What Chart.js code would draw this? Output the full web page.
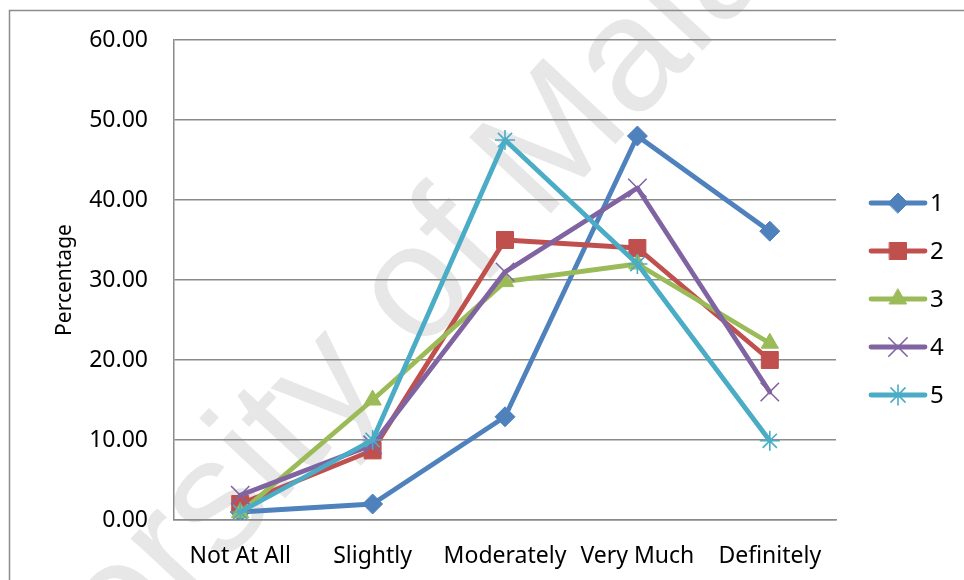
<!DOCTYPE html>
<html>
<head>
<meta charset="utf-8">
<title>Percentage by response</title>
<script src="https://cdn.jsdelivr.net/npm/chart.js@4.4.1/dist/chart.umd.min.js"></script>
<style>
  html, body { margin: 0; padding: 0; background: #ffffff; }
  #wrap { width: 964px; height: 580px; position: relative; }
</style>
</head>
<body>
<div id="wrap"><canvas id="chart" width="964" height="580"></canvas></div>
<script>
// Response categories along the horizontal axis
const categories = ['Not At All', 'Slightly', 'Moderately', 'Very Much', 'Definitely'];

// Series names shown in the legend
const seriesNames = ['1', '2', '3', '4', '5'];

// Percentage values for each series
const series1 = [1.0, 2.0, 12.9, 48.0, 36.1];
const series2 = [2.0, 8.7, 35.0, 34.0, 20.0];
const series3 = [0.9, 15.0, 29.8, 32.0, 22.1];
const series4 = [3.1, 9.4, 31.0, 41.5, 16.0];
const series5 = [1.0, 10.0, 47.5, 32.0, 9.9];

// Vertical axis range and tick step
const yMin = 0;
const yMax = 60;
const yStep = 10;

const FONT = '"Noto Sans", "Open Sans", sans-serif';
const GRID = '#8a8a8a';

const styles = [
  { color: '#4F81BD', pointStyle: 'rectRot',  radius: 10, pointBorderWidth: 1 },
  { color: '#C0504D', pointStyle: 'rect',     radius: 12, pointBorderWidth: 1 },
  { color: '#9BBB59', pointStyle: 'triangle', radius: 10, pointBorderWidth: 1 },
  { color: '#8064A2', pointStyle: 'crossRot', radius: 13, pointBorderWidth: 1.6 },
  { color: '#4BACC6', pointStyle: 'star',     radius: 10, pointBorderWidth: 1.6 }
];

const values = [series1, series2, series3, series4, series5];

const datasets = values.map((data, i) => ({
  label: seriesNames[i],
  data: data,
  borderColor: styles[i].color,
  backgroundColor: styles[i].color,
  borderWidth: 4.8,
  borderJoinStyle: 'round',
  borderCapStyle: 'round',
  tension: 0,
  fill: false,
  pointStyle: styles[i].pointStyle,
  pointRadius: styles[i].radius,
  pointHoverRadius: styles[i].radius,
  pointBorderWidth: styles[i].pointBorderWidth,
  pointBackgroundColor: styles[i].color,
  pointBorderColor: styles[i].color,
  // later series are painted over earlier ones
  order: values.length - 1 - i
}));

// Faint diagonal watermark and the outer frame, painted behind the plot
const backdrop = {
  id: 'backdrop',
  beforeDraw(chart) {
    const ctx = chart.ctx;
    ctx.save();
    ctx.fillStyle = '#ffffff';
    ctx.fillRect(0, 0, chart.width, chart.height);

    ctx.translate(368, 344);
    ctx.rotate(-47 * Math.PI / 180);
    ctx.font = '162px "Liberation Sans", Arial, sans-serif';
    ctx.fillStyle = '#e7e7e7';
    ctx.textAlign = 'center';
    ctx.textBaseline = 'middle';
    ctx.fillText('University of Malaya', 0, 0);
    ctx.restore();

    ctx.save();
    ctx.strokeStyle = '#8c8c8c';
    ctx.lineWidth = 1.5;
    ctx.strokeRect(9.5, 10.5, 1200, 1200);
    ctx.restore();
  }
};

// Legend on the right: a line sample with its marker, then the series name
const lineLegend = {
  id: 'lineLegend',
  afterDraw(chart) {
    const ctx = chart.ctx;
    const x0 = 871, x1 = 925, top = 203, gap = 48;
    chart.data.datasets.forEach((ds, i) => {
      const y = top + i * gap;
      ctx.save();
      ctx.strokeStyle = ds.borderColor;
      ctx.lineWidth = ds.borderWidth;
      ctx.lineCap = 'round';
      ctx.beginPath();
      ctx.moveTo(x0, y);
      ctx.lineTo(x1, y);
      ctx.stroke();
      ctx.fillStyle = ds.pointBackgroundColor;
      ctx.strokeStyle = ds.pointBorderColor;
      ctx.lineWidth = ds.pointBorderWidth;
      Chart.helpers.drawPoint(ctx, {
        pointStyle: ds.pointStyle,
        radius: ds.pointRadius,
        rotation: 0,
        borderWidth: ds.pointBorderWidth
      }, (x0 + x1) / 2, y);
      ctx.fillStyle = '#000000';
      ctx.font = '24px ' + FONT;
      ctx.textAlign = 'left';
      ctx.textBaseline = 'middle';
      ctx.fillText(ds.label, x1 + 5, y + 1);
      ctx.restore();
    });
  }
};

new Chart(document.getElementById('chart'), {
  type: 'line',
  data: { labels: categories, datasets: datasets },
  plugins: [backdrop, lineLegend],
  options: {
    responsive: false,
    animation: false,
    devicePixelRatio: 1,
    layout: { padding: { left: 0, top: 40, right: 128, bottom: 0 } },
    plugins: {
      legend: { display: false },
      tooltip: { enabled: false },
      title: { display: false }
    },
    scales: {
      x: {
        type: 'category',
        offset: true,
        grid: { display: false, drawTicks: false },
        border: { display: true, color: GRID, width: 1.5 },
        ticks: {
          color: '#000000',
          font: { family: FONT, size: 23 },
          padding: 23,
          maxRotation: 0,
          autoSkip: false
        },
        afterFit(scale) { scale.height = 60; }
      },
      y: {
        min: yMin,
        max: yMax,
        grid: { color: GRID, lineWidth: 1.5, drawTicks: false },
        border: { display: true, color: GRID, width: 1.5 },
        ticks: {
          stepSize: yStep,
          color: '#000000',
          font: { family: FONT, size: 23 },
          padding: 26,
          callback: (v) => Number(v).toFixed(2)
        },
        title: {
          display: true,
          text: 'Percentage',
          color: '#000000',
          font: { family: FONT, size: 21 },
          padding: { top: 52, bottom: 0 }
        },
        afterFit(scale) { scale.width = 174; }
      }
    }
  }
});
</script>
</body>
</html>
